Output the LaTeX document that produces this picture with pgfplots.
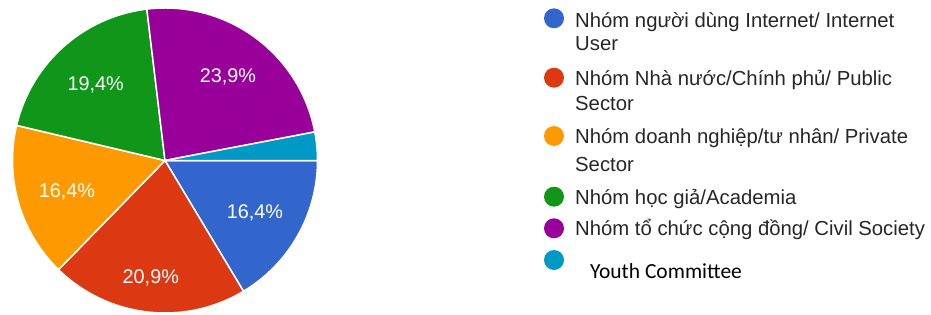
\documentclass[border=0pt]{standalone}
\usepackage{pgfplots}
\pgfplotsset{compat=1.18}
\usepackage{fontspec}
\setmainfont{Liberation Sans}
\newfontfamily\carlito{Carlito}
\definecolor{pblue}{HTML}{3366CC}
\definecolor{pred}{HTML}{DC3912}
\definecolor{porange}{HTML}{FF9900}
\definecolor{pgreen}{HTML}{109618}
\definecolor{ppurple}{HTML}{990099}
\definecolor{pteal}{HTML}{0099C6}
% data (percent)
\def\vA{16.4}\def\vB{20.9}\def\vC{16.4}\def\vD{19.4}\def\vE{23.9}\def\vF{3.0}
\pgfmathsetmacro\aA{-3.6*\vA}
\pgfmathsetmacro\aB{\aA-3.6*\vB}
\pgfmathsetmacro\aC{\aB-3.6*\vC}
\pgfmathsetmacro\aD{\aC-3.6*\vD}
\pgfmathsetmacro\aE{\aD-3.6*\vE}
\pgfmathsetmacro\aF{\aE-3.6*\vF}
\newcommand\slice[3]{\fill[#3,draw=white,line width=1.5pt] (axis cs:0,0) -- ++({#1}:152.5pt) arc[start angle=#1,end angle=#2,radius=152.5pt] -- cycle;}
\begin{document}
\begin{tikzpicture}
\begin{axis}[x=1pt,y=1pt,xmin=-165,xmax=766,ymin=-153.5,ymax=160.5,hide axis,
  scale only axis]
\path (rel axis cs:0,0) rectangle (rel axis cs:1,1);
\slice{0}{\aA}{pblue}
\slice{\aA}{\aB}{pred}
\slice{\aB}{\aC}{porange}
\slice{\aC}{\aD}{pgreen}
\slice{\aD}{\aE}{ppurple}
\slice{\aE}{\aF}{pteal}
\begin{scope}[every node/.style={anchor=base,inner sep=0pt,text=white,font=\fontsize{19.8}{23}\selectfont}]
\node at (axis cs:-69.3,70.5) {19,4\%};
\node at (axis cs:63,77.8) {23,9\%};
\node at (axis cs:-98,-36.8) {16,4\%};
\node at (axis cs:-14.2,-122.8) {20,9\%};
\node at (axis cs:90,-57.8) {16,4\%};
\end{scope}
\fill[pblue] (axis cs:389,142.2) circle[radius=10pt];
\fill[pred] (axis cs:389,82.8) circle[radius=10pt];
\fill[porange] (axis cs:389,24.5) circle[radius=10pt];
\fill[pgreen] (axis cs:389,-36.2) circle[radius=10pt];
\fill[ppurple] (axis cs:389,-67.8) circle[radius=10pt];
\fill[pteal] (axis cs:389,-99.5) circle[radius=10pt];
\begin{scope}[every node/.style={anchor=base west,inner sep=0pt,text=black!85,font=\fontsize{20.3}{24}\selectfont}]
\node at (axis cs:410,133) {Nhóm người dùng Internet/ Internet};
\node at (axis cs:410,109.5) {User};
\node at (axis cs:410,75.5) {Nhóm Nhà nước/Chính phủ/ Public};
\node at (axis cs:410,50.5) {Sector};
\node at (axis cs:410,17.5) {Nhóm doanh nghiệp/tư nhân/ Private};
\node at (axis cs:410,-11) {Sector};
\node at (axis cs:410,-43.5) {Nhóm học giả/Academia};
\node at (axis cs:410,-74.5) {Nhóm tổ chức cộng đồng/ Civil Society};
\node[text=black,font=\carlito\fontsize{21.5}{25}\selectfont] at (axis cs:425,-118) {Youth Committee};
\end{scope}
\end{axis}
\end{tikzpicture}
\end{document}
